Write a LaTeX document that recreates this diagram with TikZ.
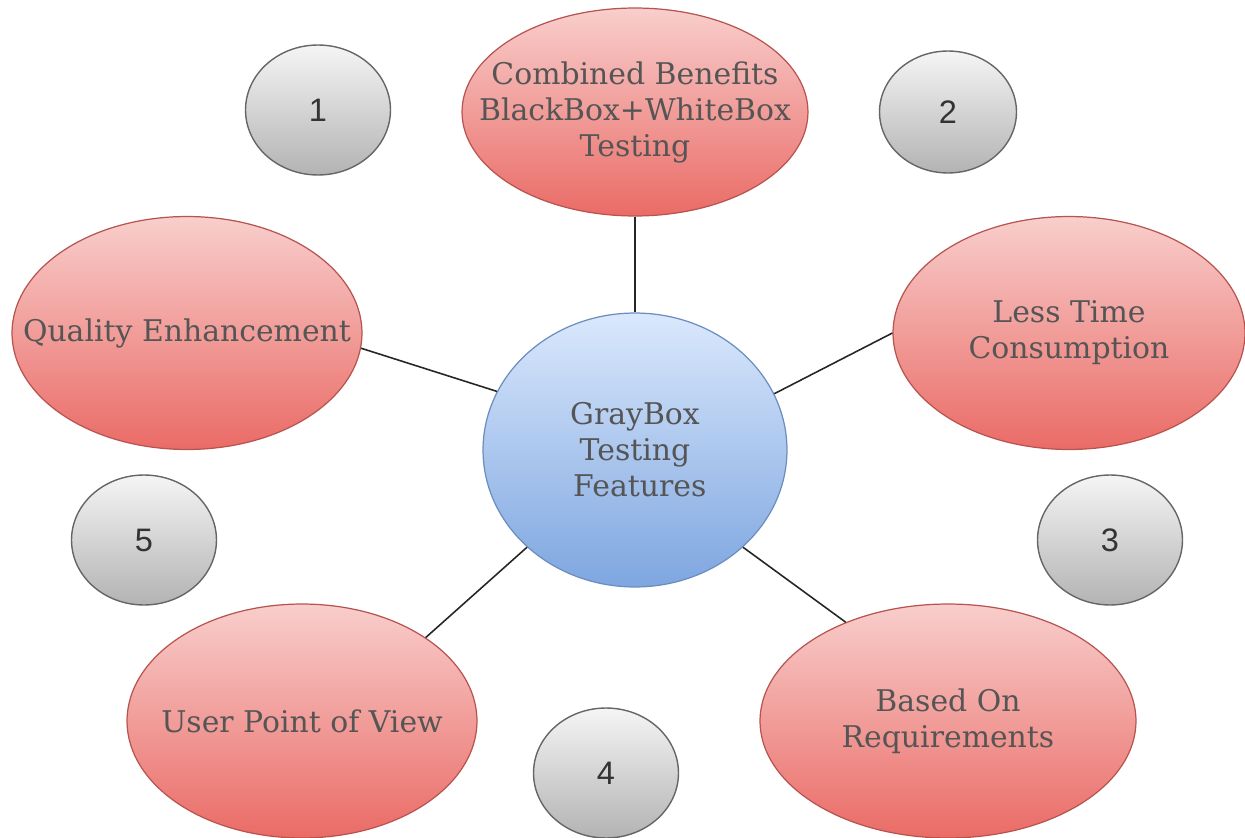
\documentclass[tikz,border=0pt]{standalone}
\usepackage{fontspec}
\setmainfont{DejaVu Serif}
\newfontfamily\numfont{Liberation Sans}
\usetikzlibrary{shapes.geometric}
\definecolor{redtop}{HTML}{F8CECC}
\definecolor{redbot}{HTML}{EA6B66}
\definecolor{redline}{HTML}{B85450}
\definecolor{bluetop}{HTML}{DAE8FC}
\definecolor{bluebot}{HTML}{7EA6E0}
\definecolor{blueline}{HTML}{6C8EBF}
\definecolor{graytop}{HTML}{F5F5F5}
\definecolor{graybot}{HTML}{B3B3B3}
\definecolor{grayline}{HTML}{666666}
\definecolor{txt}{HTML}{555555}
\definecolor{numtxt}{HTML}{333333}
\tikzset{
  ftext/.style={align=center, text=txt, inner sep=0pt, font=\fontsize{17}{20.5}\selectfont},
  feat/.style={ellipse, draw=redline, line width=0.7pt, top color=redtop, bottom color=redbot,
    inner sep=0pt},
  hub/.style={ellipse, draw=blueline, line width=0.7pt, top color=bluetop, bottom color=bluebot,
    inner sep=0pt},
  numc/.style={ellipse, draw=grayline, line width=0.8pt, top color=graytop, bottom color=graybot,
    inner sep=0pt, text=numtxt, font=\numfont\fontsize{18.5}{22}\selectfont,
    minimum width=2.9cm, minimum height=2.6cm},
  link/.style={draw=black!85, line width=0.9pt}
}
\begin{document}
\begin{tikzpicture}[x=0.02cm, y=-0.02cm]
\useasboundingbox (0,0) rectangle (1245,838);
\node[hub, minimum width=6.08cm, minimum height=5.48cm,
  label={[ftext]center:{GrayBox\\Testing\\\ Features}}] (c) at (635,450) {};
\node[feat, minimum width=6.92cm, minimum height=4.16cm,
  label={[ftext]center:{Combined Benefits\\BlackBox+WhiteBox\\Testing}}] (t) at (635,112) {};
\node[feat, minimum width=7.0cm, minimum height=4.66cm,
  label={[ftext]center:{Quality Enhancement}}] (l) at (187,333) {};
\node[feat, minimum width=7.04cm, minimum height=4.66cm,
  label={[ftext]center:{Less Time\\Consumption}}] (r) at (1069,333) {};
\node[feat, minimum width=7.0cm, minimum height=4.68cm,
  label={[ftext]center:{User Point of View}}] (bl) at (302,721) {};
\node[feat, minimum width=7.52cm, minimum height=4.68cm,
  label={[ftext]center:{Based On\\Requirements}}] (br) at (948,721) {};
\node[numc] (n1) at (318,110) {1};
\node[numc, minimum width=2.74cm, minimum height=2.44cm] (n2) at (948,112) {2};
\node[numc] (n3) at (1110,540) {3};
\node[numc] (n4) at (606,773) {4};
\node[numc] (n5) at (144,540) {5};
\draw[link] (t.south) -- (c.north);
\draw[link] (l.-5) -- (c.157);
\draw[link] (r.west) -- (c.22);
\draw[link] (bl.34) -- (c.222);
\draw[link] (br.136) -- (c.318);
\end{tikzpicture}
\end{document}
